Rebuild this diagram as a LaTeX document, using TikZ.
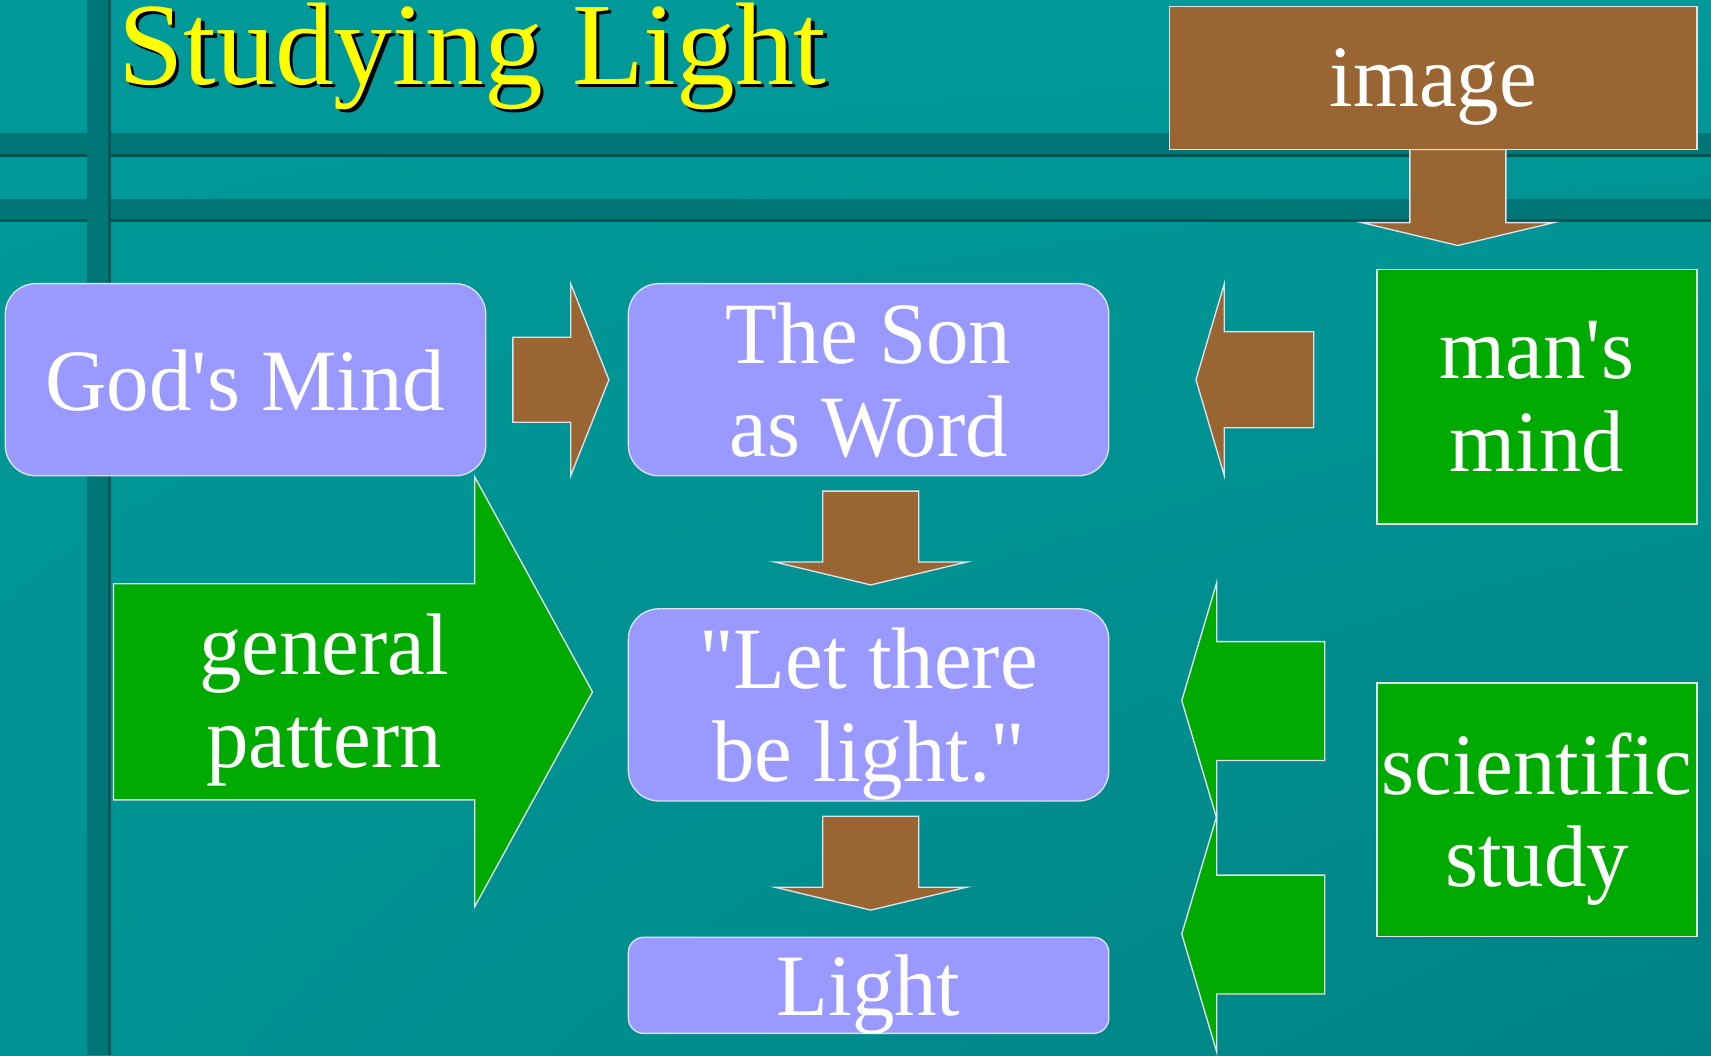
\documentclass[tikz,border=0pt]{standalone}
\usepackage{fontspec}
\usepackage{tikz}
\usetikzlibrary{shadings}
\setmainfont{Liberation Serif}[FakeStretch=0.97,Ligatures={TeXOff,CommonOff}]
\newfontfamily\headfont{Liberation Serif}[Ligatures={TeXOff,CommonOff}]

\definecolor{slidebg}{RGB}{0,153,153}
\definecolor{slidedark}{RGB}{0,130,132}
\definecolor{bandcol}{RGB}{0,119,119}
\definecolor{bandline}{RGB}{0,85,85}
\definecolor{arrowbrown}{RGB}{153,102,51}
\definecolor{boxgreen}{RGB}{0,170,0}
\definecolor{boxlav}{RGB}{153,153,255}
\definecolor{rimcol}{RGB}{225,225,235}
\definecolor{titleyellow}{RGB}{255,255,0}

\begin{document}
\begin{tikzpicture}[x=0.01cm, y=-0.01cm,
    rim/.style={draw=rimcol, line width=0.35pt},
    words/.style={text=white, font=\fontsize{22.8}{24.2}\selectfont, align=center,
      text depth=0pt, inner sep=0pt, outer sep=0pt},
    lavbox/.style={rim, fill=boxlav, rounded corners=0.28cm,
      minimum width=4.4cm, minimum height=1.76cm},
    greenbox/.style={rim, fill=boxgreen, minimum width=2.93cm, minimum height=2.33cm},
    blockarrow/.style={rim, fill=arrowbrown},
    greenarrow/.style={rim, fill=boxgreen},
    titletext/.style={anchor=base west, inner sep=0pt,
      font=\headfont\fontsize{30.6}{32}\selectfont}]
    \useasboundingbox (0,0) rectangle (1568,967);
    % slide background
    \shade[upper left=slidebg, upper right=slidebg, lower left=slidebg!96!black,
      lower right=slidedark] (0,0) rectangle (1568,967);
    \foreach \y in {122,182}
    {
      \fill[bandcol] (0,\y) rectangle (1568,\y+19);
      \fill[bandline] (0,\y+19) rectangle (1568,\y+21.5);
    }
    \fill[bandcol] (80,0) rectangle (99,967);
    \fill[bandline] (99,0) rectangle (102,967);
    % title
    \node[titletext, text=black] (titleshade) at (111,80) {Studying Light};
    \node[titletext, text=titleyellow] (title) at (108,77) {Studying Light};
    % block arrows
    \draw[blockarrow] (1292,137) -- (1380,137) -- (1380,204) -- (1424,204)
      -- (1336,225) -- (1248,204) -- (1292,204) -- cycle;
    \draw[blockarrow] (470,309) -- (523,309) -- (523,260) -- (558,348)
      -- (523,436) -- (523,387) -- (470,387) -- cycle;
    \draw[blockarrow] (1204,304) -- (1122,304) -- (1122,260) -- (1096,348)
      -- (1122,436) -- (1122,392) -- (1204,392) -- cycle;
    \draw[greenarrow] (104,535) -- (435,535) -- (435,437) -- (543,634)
      -- (435,831) -- (435,733) -- (104,733) -- cycle;
    \foreach \dy in {0,214}
      \draw[greenarrow, shift={(0,\dy)}] (1214,588) -- (1115,588) -- (1115,534)
        -- (1083,642) -- (1115,750) -- (1115,697) -- (1214,697) -- cycle;
    % boxes
    \node[rim, fill=arrowbrown, words, minimum width=4.83cm, minimum height=1.31cm]
      (image) at (1313.5,71.5) {image};
    \node[lavbox, words] (god) at (225,348) {God's Mind};
    \node[lavbox, words] (son) at (796,348) {The Son\\as Word};
    \node[lavbox, words] (let) at (796,646) {"Let there\\be light."};
    \node[lavbox, words, rounded corners=0.14cm, minimum height=0.88cm]
      (light) at (796,903) {Light};
    \node[greenbox, words] (mans) at (1408.5,363.5) {man's\\mind};
    \node[greenbox, words, minimum height=2.32cm] (sci) at (1408.5,742) {scientific\\study};
    \node[words] (pattern) at (297,633) {general\\pattern};
    % downward steps
    \foreach \from in {son,let}
      \draw[blockarrow, shift={(\from.south)}] (-42,14) -- (46,14) -- (46,79)
        -- (90,79) -- (2,100) -- (-86,79) -- (-42,79) -- cycle;
\end{tikzpicture}
\end{document}
